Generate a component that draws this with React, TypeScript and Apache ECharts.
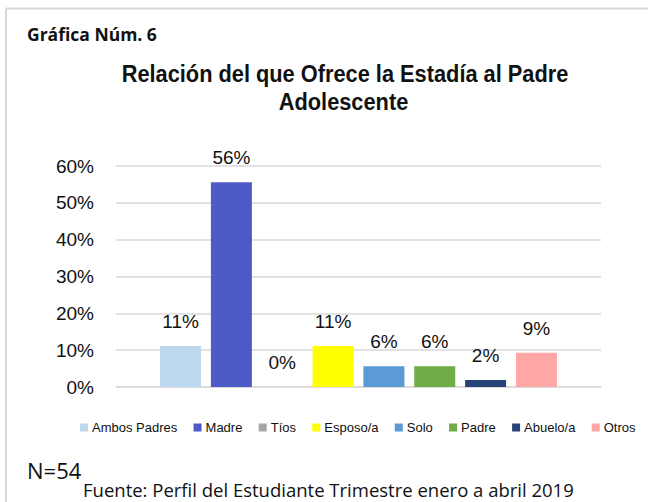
import React, { useEffect, useRef } from 'react';
import * as echarts from 'echarts';

const categories = ['Ambos Padres', 'Madre', 'Tíos', 'Esposo/a', 'Solo', 'Padre', 'Abuelo/a', 'Otros'];
const values = [11.1, 55.6, 0, 11.1, 5.6, 5.6, 1.9, 9.3];
const colors = ['#BDD7EE', '#4E5AC6', '#A5A5A5', '#FFFF00', '#5B9BD5', '#70AD47', '#264478', '#FFA6A6'];
const yMin = 0;
const yMax = 60;
const yInterval = 10;
const headerText = 'Gráfica Núm. 6';
const titleLines = ['Relación del que Ofrece la Estadía al Padre', 'Adolescente'];
const sampleText = 'N=54';
const sourceText = 'Fuente: Perfil del Estudiante Trimestre enero a abril 2019';

const ARIAL = "'Liberation Sans', Arial, sans-serif";
const CALIBRI = "'Open Sans', Carlito, Calibri, sans-serif";

export default function App() {
  const ref = useRef<HTMLDivElement>(null);
  useEffect(() => {
    if (!ref.current) return;
    const chart = echarts.init(ref.current, undefined, { renderer: 'svg' });
    const series = categories.map((name, i) => ({
      type: 'bar',
      name,
      data: [values[i]],
      barWidth: 41,
      barGap: '24%',
      itemStyle: { color: colors[i] },
      label: {
        show: true,
        position: 'top',
        distance: 15,
        formatter: (p: any) => Math.round(p.value) + '%',
        fontFamily: ARIAL,
        fontSize: 19,
        color: '#111',
      },
    }));
    chart.setOption({
      animation: false,
      backgroundColor: '#fff',
      grid: { left: 116, right: 47, top: 166, bottom: 115, containLabel: false },
      xAxis: {
        type: 'category',
        data: [''],
        axisLine: { show: true, lineStyle: { color: '#d9d9d9', width: 1.5 } },
        axisTick: { show: false },
        axisLabel: { show: false },
      },
      yAxis: {
        type: 'value',
        min: yMin,
        max: yMax,
        interval: yInterval,
        axisLine: { show: false },
        axisTick: { show: false },
        splitLine: { lineStyle: { color: '#d9d9d9', width: 1.5 } },
        axisLabel: {
          formatter: '{value}%',
          margin: 22,
          fontFamily: ARIAL,
          fontSize: 19,
          color: '#111',
        },
      },
      legend: {
        data: categories,
        left: 80,
        top: 421,
        padding: 0,
        icon: 'rect',
        itemWidth: 8,
        itemHeight: 8,
        itemGap: 16.3,
        textStyle: { fontFamily: ARIAL, fontSize: 13, color: '#111', padding: [0, 0, 0, -1] },
      },
      graphic: [
        { type: 'line', shape: { x1: 6, y1: 8.5, x2: 648, y2: 8.5 }, style: { stroke: '#d9d9d9', lineWidth: 2 } },
        { type: 'line', shape: { x1: 6, y1: 8.5, x2: 6, y2: 502 }, style: { stroke: '#d9d9d9', lineWidth: 2 } },
        {
          type: 'text', x: 27, y: 34,
          style: { text: headerText, fontFamily: CALIBRI, fontWeight: 'bold', fontSize: 17.5, fill: '#111', align: 'left', verticalAlign: 'middle' },
        },
        {
          type: 'text', x: 345, y: 74, scaleY: 1.12,
          style: { text: titleLines[0], fontFamily: ARIAL, fontWeight: 'bold', fontSize: 21.8, fill: '#111', align: 'center', verticalAlign: 'middle' },
        },
        {
          type: 'text', x: 343.5, y: 101.5, scaleY: 1.12,
          style: { text: titleLines[1], fontFamily: ARIAL, fontWeight: 'bold', fontSize: 21.8, fill: '#111', align: 'center', verticalAlign: 'middle' },
        },
        {
          type: 'text', x: 27, y: 470,
          style: { text: sampleText, fontFamily: CALIBRI, fontSize: 22, fill: '#111', align: 'left', verticalAlign: 'middle' },
        },
        {
          type: 'text', x: 83, y: 499,
          style: { text: sourceText, fontFamily: CALIBRI, fontSize: 18.5, fill: '#111', align: 'left', verticalAlign: 'bottom' },
        },
      ],
      series,
    });
    return () => chart.dispose();
  }, []);
  return <div ref={ref} style={{ position: 'fixed', left: 0, top: 0, width: 648, height: 502 }} />;
}
